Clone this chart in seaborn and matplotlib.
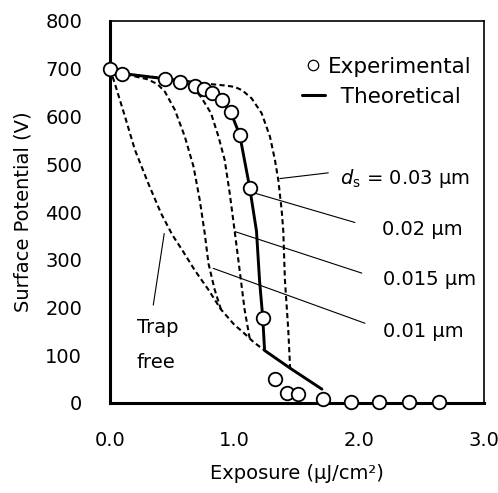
import matplotlib
matplotlib.use('Agg')
import matplotlib.pyplot as plt
from matplotlib.ticker import MultipleLocator, FormatStrFormatter
from matplotlib.lines import Line2D
import pandas as pd
import seaborn as sns

## Data
# Experimental surface potential vs exposure
EXP_X = [0.0, 0.10, 0.44, 0.56, 0.68, 0.75, 0.82, 0.90, 0.97, 1.04, 1.12, 1.23,
         1.32, 1.42, 1.51, 1.71, 1.93, 2.16, 2.40, 2.64]
EXP_V = [699, 689, 679, 672, 664, 657, 649, 635, 609, 561, 450, 179,
         50, 20, 19, 8, 3, 2, 2, 2]

# Theoretical curve, d_s = 0.02 um (solid)
THEO_X = [0.0, 0.10, 0.44, 0.56, 0.68, 0.75, 0.82, 0.90, 0.97, 1.04, 1.12, 1.175,
          1.20, 1.225, 1.24, 1.45, 1.70]
THEO_V = [700, 690, 679, 673, 664, 657, 648, 634, 608, 562, 452, 360,
          255, 180, 110, 72, 29]

# Dashed theoretical curves
TRAPFREE_X = [0.0, 0.04, 0.12, 0.20, 0.31, 0.41, 0.50, 0.58, 0.68, 0.79, 0.89, 1.00, 1.06, 1.15, 1.24]
TRAPFREE_V = [700, 668, 600, 530, 458, 397, 352, 320, 278, 237, 196, 163, 150, 128, 110]

DS001_X = [0.0, 0.10, 0.30, 0.38, 0.44, 0.52, 0.60, 0.67, 0.72, 0.76, 0.79, 0.84, 0.89]
DS001_V = [700, 690, 678, 668, 652, 614, 558, 495, 425, 355, 292, 237, 196]

DS0015_X = [0.0, 0.10, 0.45, 0.60, 0.65, 0.73, 0.81, 0.87, 0.92, 0.96, 1.00, 1.04, 1.08, 1.12]
DS0015_V = [700, 690, 679, 673, 665, 641, 607, 558, 509, 440, 360, 278, 195, 136]

DS003_X = [0.0, 0.10, 0.45, 0.60, 0.76, 0.92, 1.00, 1.06, 1.136, 1.216, 1.283, 1.323,
           1.35, 1.377, 1.39, 1.403, 1.43, 1.445]
DS003_V = [700, 690, 680, 675, 669, 665, 662, 655, 638, 607, 558, 509,
           467, 404, 360, 258, 153, 72]

# Labels (text, x, baseline V) and leader lines (from, to)
LABELS = [
    (r'$d_{\rm s}$ = 0.03 µm', 1.844, 458),
    ('0.02 µm', 2.179, 352),
    ('0.015 µm', 2.186, 247),
    ('0.01 µm', 2.186, 139),
    ('Trap', 0.214, 147),
    ('free', 0.214, 73),
]
LEADERS = [
    ((1.751, 482), (1.363, 470)),
    ((1.965, 378), (1.155, 440)),
    ((2.020, 272), (1.002, 359)),
    ((2.045, 167), (0.828, 282)),
    ((0.347, 205), (0.435, 355)),
]

sns.set_style('white')
plt.rcParams['font.family'] = ['DejaVu Sans']
plt.rcParams['font.size'] = 14
plt.rcParams['mathtext.fontset'] = 'dejavusans'
plt.rcParams['text.color'] = 'black'
plt.rcParams['axes.labelcolor'] = 'black'
plt.rcParams['xtick.color'] = 'black'
plt.rcParams['ytick.color'] = 'black'

fig = plt.figure(figsize=(4.98, 4.93), dpi=100)
ax = fig.add_axes([110 / 498, 90 / 493, 374 / 498, 382 / 493])

dashed = (0, (2.5, 1.6))
for cx, cv in [(TRAPFREE_X, TRAPFREE_V), (DS001_X, DS001_V),
               (DS0015_X, DS0015_V), (DS003_X, DS003_V)]:
    sns.lineplot(x=cx, y=cv, ax=ax, sort=False, estimator=None,
                 color='black', lw=1.5, linestyle=dashed, zorder=2)

sns.lineplot(x=THEO_X, y=THEO_V, ax=ax, sort=False, estimator=None,
             color='black', lw=2.1, zorder=3)

expDf = pd.DataFrame({'exposure': EXP_X, 'potential': EXP_V})
sns.scatterplot(data=expDf, x='exposure', y='potential', ax=ax,
                marker='o', s=95, facecolor='white', edgecolor='black',
                linewidth=1.3, zorder=4, clip_on=False)

# Leader lines and labels
for (x0, y0), (x1, y1) in LEADERS:
    ax.annotate('', xy=(x1, y1), xytext=(x0, y0),
                arrowprops=dict(arrowstyle='-', lw=0.8, color='black',
                                shrinkA=0, shrinkB=0))
for txt, tx, ty in LABELS:
    ax.text(tx, ty, txt, ha='left', va='baseline', fontsize=14, color='black')

# Legend
handles = [
    Line2D([], [], marker='o', ls='none', markersize=7.5, markerfacecolor='white',
           markeredgecolor='black', markeredgewidth=0.9),
    Line2D([], [], color='black', lw=2.2),
]
ax.legend(handles, ['Experimental', '  Theoretical'], loc='upper right',
          bbox_to_anchor=(1.0, 0.94), frameon=False, handlelength=1.1,
          handletextpad=0.1, labelspacing=0.45, borderaxespad=0.2, fontsize=15.5)

# Axes styling
ax.set_xlim(0, 3.0)
ax.set_ylim(0, 800)
ax.xaxis.set_major_locator(MultipleLocator(1.0))
ax.xaxis.set_minor_locator(MultipleLocator(0.5))
ax.xaxis.set_major_formatter(FormatStrFormatter('%.1f'))
ax.yaxis.set_major_locator(MultipleLocator(100))
ax.tick_params(axis='both', which='both', direction='in', length=5, width=1.2,
               labelsize=14, colors='black')
ax.tick_params(axis='x', which='both', pad=20, top=False)
ax.tick_params(axis='y', pad=20, right=False)
ax.set_xlabel('Exposure (µJ/cm²)', fontsize=14, labelpad=10)
ax.set_ylabel('Surface Potential (V)', fontsize=14, labelpad=9)

for side in ('left', 'bottom'):
    ax.spines[side].set_linewidth(2.2)
for side in ('top', 'right'):
    ax.spines[side].set_linewidth(1.2)
for spine in ax.spines.values():
    spine.set_color('black')

fig.savefig('out.png', dpi=100)
